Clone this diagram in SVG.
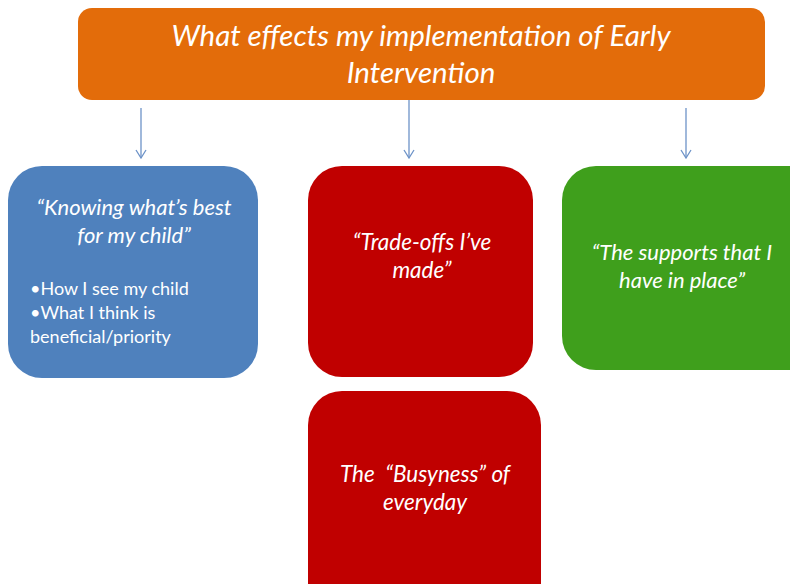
<svg xmlns="http://www.w3.org/2000/svg" width="790" height="584" viewBox="0 0 790 584">
<style>
.t{font-family:Lato,"Open Sans","Liberation Sans",sans-serif;fill:#fff;text-anchor:middle}
.i{font-style:italic}
.b{text-anchor:start}
.c{stroke:#6d93c8;stroke-width:1.3;fill:none}
</style>
<defs>
<marker id="ah" markerWidth="10" markerHeight="12" refX="9" refY="6" orient="auto" markerUnits="userSpaceOnUse" viewBox="0 0 10 12">
<path d="M1,1 L9,6 L1,11" fill="none" stroke="#6d93c8" stroke-width="1.3"/>
</marker>
</defs>
<rect width="790" height="584" fill="#fff"/>
<g id="connectors">
<line class="c" x1="141" y1="108" x2="141" y2="158" marker-end="url(#ah)"/>
<line class="c" x1="409" y1="100" x2="409" y2="158" marker-end="url(#ah)"/>
<line class="c" x1="686" y1="108" x2="686" y2="158" marker-end="url(#ah)"/>
</g>
<g id="title">
<rect x="78" y="8" width="687" height="92" rx="14" fill="#e36c0a"/>
<text class="t i" x="421" y="46" font-size="29.5">What effects my implementation of Early</text>
<text class="t i" x="421" y="83" font-size="29.5">Intervention</text>
</g>
<g id="knowing">
<rect x="8" y="166" width="250" height="212" rx="34" fill="#4f81bd"/>
<text class="t i" x="134" y="215" font-size="22">“Knowing what’s best</text>
<text class="t i" x="134" y="243" font-size="22">for my child”</text>
<text class="t b" x="30" y="295" font-size="18">•How I see my child</text>
<text class="t b" x="30" y="319" font-size="18">•What I think is</text>
<text class="t b" x="30" y="343" font-size="18">beneficial/priority</text>
</g>
<g id="tradeoffs">
<rect x="308" y="166" width="225" height="211" rx="34" fill="#c00000"/>
<text class="t i" x="422" y="250" font-size="22.5">“Trade-offs I’ve</text>
<text class="t i" x="422" y="278" font-size="22.5">made”</text>
</g>
<g id="supports">
<rect x="562" y="166" width="260" height="204" rx="34" fill="#3f9f1c"/>
<text class="t i" x="682" y="260" font-size="22">“The supports that I</text>
<text class="t i" x="682" y="288" font-size="22">have in place”</text>
</g>
<g id="busyness">
<rect x="308" y="391" width="233" height="230" rx="34" fill="#c00000"/>
<text class="t i" x="425" y="482" font-size="22.5" xml:space="preserve">The  “Busyness” of</text>
<text class="t i" x="425" y="510" font-size="22.5">everyday</text>
</g>
</svg>
